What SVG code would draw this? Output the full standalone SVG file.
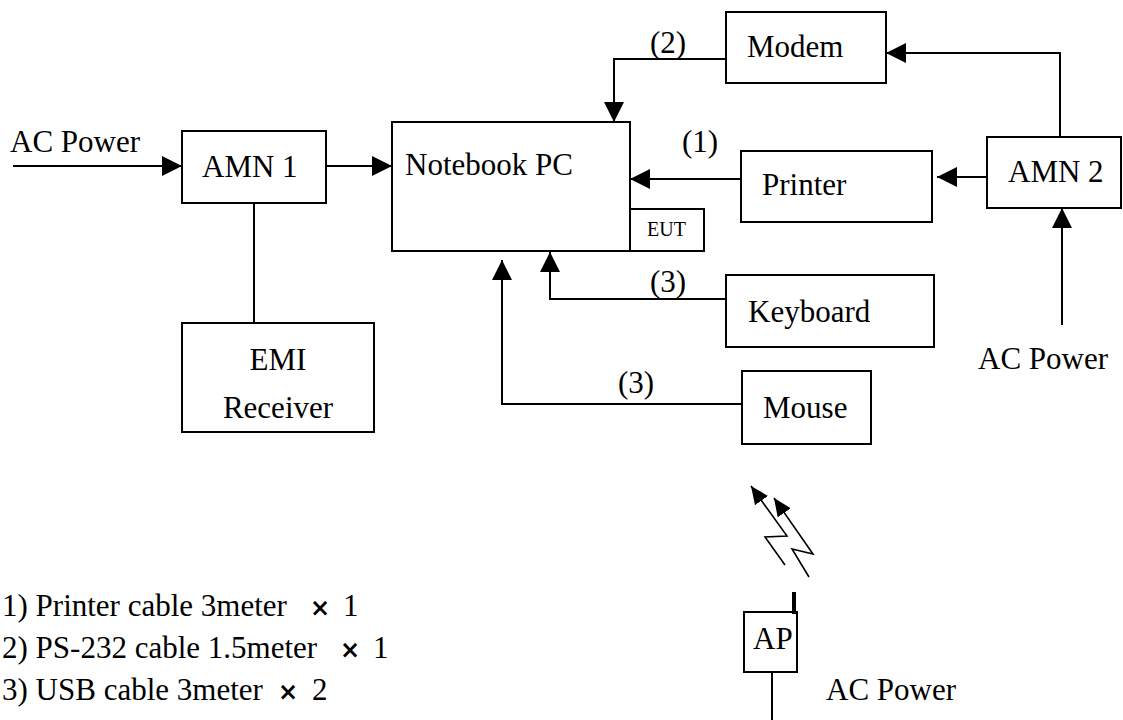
<svg xmlns="http://www.w3.org/2000/svg" width="1123" height="720" viewBox="0 0 1123 720">
<defs>
<marker id="arr" viewBox="0 0 20 20" refX="20" refY="10" markerWidth="20" markerHeight="20" markerUnits="userSpaceOnUse" orient="auto">
<path d="M0,0 L20,10 L0,20 z" fill="#000"/>
</marker>
<marker id="arrs" viewBox="0 0 18 16" refX="18" refY="8" markerWidth="18" markerHeight="16" markerUnits="userSpaceOnUse" orient="auto">
<path d="M0,0 L18,8 L0,16 z" fill="#000"/>
</marker>
</defs>
<style>
text{font-family:"Liberation Serif","Times New Roman",serif;font-size:31px;fill:#000}
.box{fill:#fff;stroke:#000;stroke-width:2}
.c{fill:none;stroke:#000;stroke-width:2}
.a{marker-end:url(#arr)}
.bolt{fill:none;stroke:#000;stroke-width:1.6;marker-end:url(#arrs)}
.x{font-family:"DejaVu Sans",sans-serif;font-weight:bold;font-size:24px}
</style>
<rect width="1123" height="720" fill="#fff"/>
<g id="connectors">
<path class="c a" d="M13,166 H182"/>
<path class="c a" d="M326,166 H392"/>
<path class="c" d="M254,203 V323"/>
<path class="c a" d="M726,59 H614 V122"/>
<path class="c a" d="M1060,137 V53 H886"/>
<path class="c a" d="M741,179 H630"/>
<path class="c a" d="M987,177 H937"/>
<path class="c a" d="M1062,325 V208"/>
<path class="c a" d="M726,299 H550 V252"/>
<path class="c a" d="M742,404 H502 V260"/>
<path class="c" d="M772,672 V720"/>
<polyline class="bolt" points="785,565 765,537 787,536 751,486"/>
<polyline class="bolt" points="809,577 792,549 813,554 774,498"/>
</g>
<g id="labels">
<text x="10" y="152">AC Power</text>
<text x="978" y="369">AC Power</text>
<text x="826" y="700">AC Power</text>
<text x="650" y="53">(2)</text>
<text x="682" y="152">(1)</text>
<text x="650" y="292">(3)</text>
<text x="618" y="393">(3)</text>
</g>
<g id="amn1"><rect class="box" x="182" y="131" width="144" height="72"/><text x="202" y="177">AMN 1</text></g>
<g id="notebook"><rect class="box" x="392" y="122" width="238" height="129"/><text x="405" y="175">Notebook PC</text></g>
<g id="eut"><rect class="box" x="630" y="209" width="74" height="42"/><text x="647" y="236" style="font-size:20px">EUT</text></g>
<g id="emi"><rect class="box" x="182" y="323" width="192" height="109"/><text x="278" y="370" text-anchor="middle">EMI</text><text x="278" y="418" text-anchor="middle">Receiver</text></g>
<g id="modem"><rect class="box" x="726" y="12" width="160" height="71"/><text x="747" y="57">Modem</text></g>
<g id="printer"><rect class="box" x="741" y="151" width="191" height="71"/><text x="762" y="195">Printer</text></g>
<g id="amn2"><rect class="box" x="987" y="137" width="134" height="71"/><text x="1008" y="182">AMN 2</text></g>
<g id="keyboard"><rect class="box" x="726" y="275" width="208" height="72"/><text x="748" y="322">Keyboard</text></g>
<g id="mouse"><rect class="box" x="742" y="371" width="129" height="73"/><text x="763" y="418">Mouse</text></g>
<g id="ap"><rect class="box" x="744" y="612" width="53" height="60"/><line x1="794" y1="592" x2="794" y2="614" stroke="#000" stroke-width="4"/><text x="753" y="649">AP</text></g>
<g id="legend">
<text x="2" y="616">1) Printer cable 3meter<tspan class="x" x="310">×</tspan><tspan x="343">1</tspan></text>
<text x="2" y="658">2) PS-232 cable 1.5meter<tspan class="x" x="340">×</tspan><tspan x="373">1</tspan></text>
<text x="2" y="700">3) USB cable 3meter<tspan class="x" x="278">×</tspan><tspan x="312">2</tspan></text>
</g>
</svg>
